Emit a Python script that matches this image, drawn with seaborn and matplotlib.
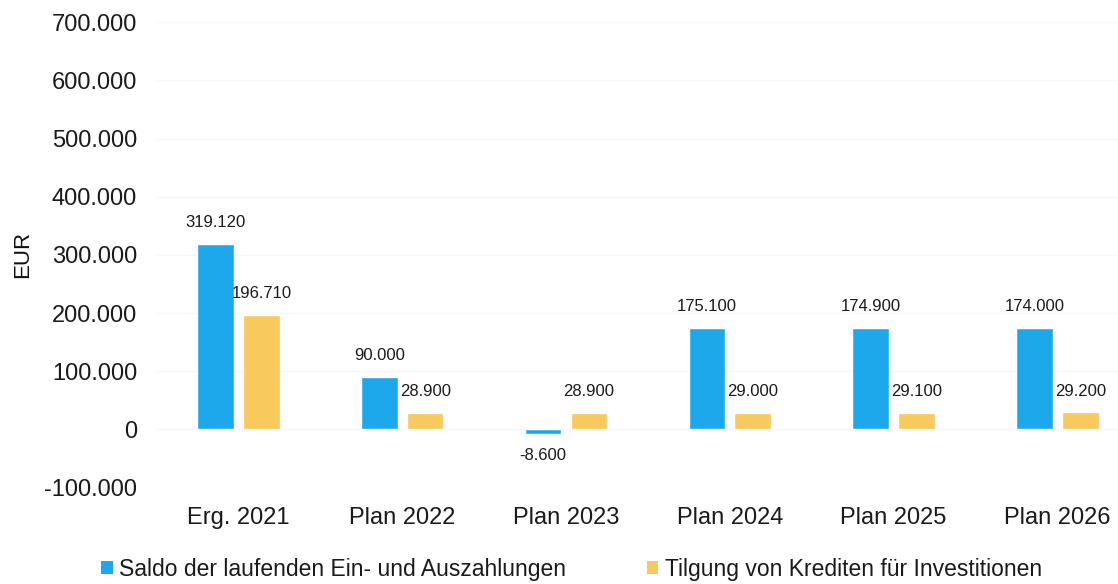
import matplotlib
matplotlib.use("Agg")
import matplotlib.pyplot as plt
import seaborn as sns
import pandas as pd
from matplotlib.ticker import FuncFormatter
from matplotlib.patches import Patch

categories = ["Erg. 2021", "Plan 2022", "Plan 2023", "Plan 2024", "Plan 2025", "Plan 2026"]
saldo = [319120, 90000, -8600, 175100, 174900, 174000]
tilgung = [196710, 28900, 28900, 29000, 29100, 29200]
series_names = ["Saldo der laufenden Ein- und Auszahlungen", "Tilgung von Krediten für Investitionen"]
colors = ["#1EA8EC", "#F8C95C"]

df = pd.DataFrame({
    "Kategorie": categories * 2,
    "Wert": saldo + tilgung,
    "Serie": [series_names[0]] * len(categories) + [series_names[1]] * len(categories),
})

sns.set_theme(style="white")
plt.rcParams["font.family"] = ["Liberation Sans", "DejaVu Sans"]

def de_fmt(v, pos=None):
    s = f"{abs(v):,.0f}".replace(",", ".")
    return ("-" if v < 0 else "") + s

fig = plt.figure(figsize=(11.18, 5.84), dpi=100)
ax = fig.add_axes([0.14, 0.165, 0.86, 0.797])
sns.barplot(data=df, x="Kategorie", y="Wert", hue="Serie", palette=colors,
            width=0.56, gap=0.2, ax=ax, legend=False, saturation=1)

ax.set_ylim(-100000, 700000)
ax.set_yticks(range(-100000, 700001, 100000))
ax.yaxis.set_major_formatter(FuncFormatter(de_fmt))
ax.set_xlim(-0.5, 5.37)
ax.set_xlabel("")
ax.set_ylabel("EUR", fontsize=16, color="#111111", labelpad=8)
ax.tick_params(axis="y", labelsize=17, colors="#1a1a1a", length=0, pad=14)
ax.tick_params(axis="x", labelsize=17, colors="#1a1a1a", length=0, pad=14)
for sp in ax.spines.values():
    sp.set_visible(False)
ax.grid(axis="y", color="#f7f7f7", linewidth=1)
ax.set_axisbelow(True)

for cont in ax.containers:
    ax.bar_label(cont, labels=[de_fmt(v) for v in cont.datavalues],
                 padding=10, fontsize=12, color="#1a1a1a")

handles = [Patch(facecolor=c, edgecolor="none") for c in colors]
fig.legend(handles, series_names, loc="lower left", bbox_to_anchor=(0.072, -0.03),
           ncol=2, frameon=False, fontsize=16.5, handlelength=0.5, handleheight=0.5,
           handletextpad=0.3, columnspacing=3.5, labelcolor="#1a1a1a")

fig.savefig("out.png", dpi=100)
